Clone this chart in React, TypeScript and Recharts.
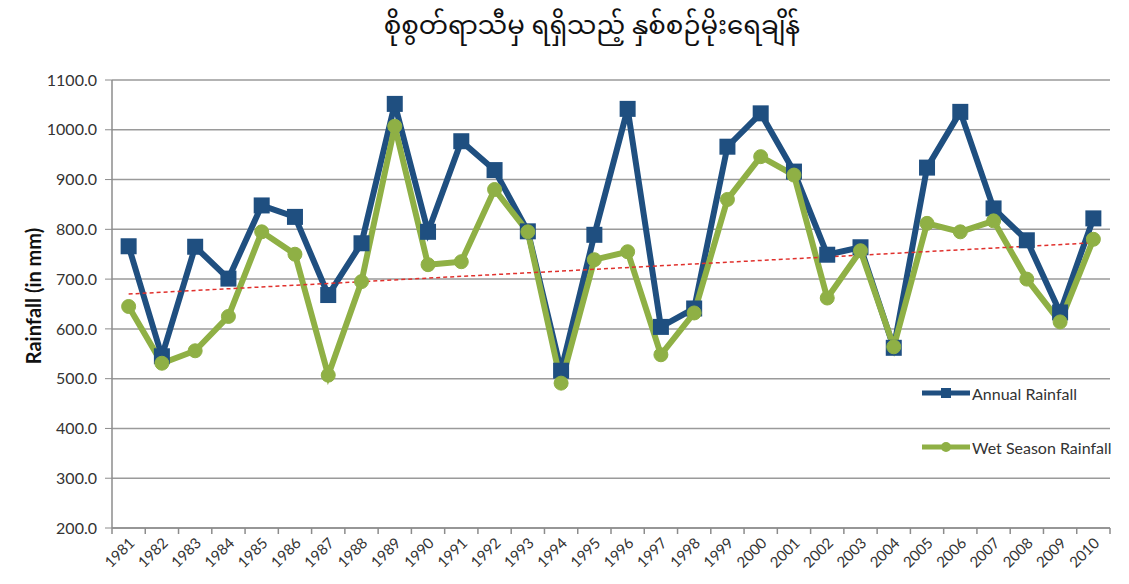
import React from 'react';
import { LineChart, Line, XAxis, YAxis, CartesianGrid, Legend, ReferenceLine } from 'recharts';

const years = ['1981','1982','1983','1984','1985','1986','1987','1988','1989','1990','1991','1992','1993','1994','1995','1996','1997','1998','1999','2000','2001','2002','2003','2004','2005','2006','2007','2008','2009','2010'];
const annual = [766, 545, 765, 701, 848, 825, 668, 772, 1052, 795, 977, 919, 796, 516, 789, 1042, 604, 641, 966, 1033, 916, 749, 764, 562, 924, 1036, 842, 778, 633, 822];
const wet = [645, 531, 556, 625, 795, 750, 507, 695, 1007, 729, 735, 880, 795, 491, 739, 755, 548, 632, 860, 946, 909, 662, 757, 564, 812, 795, 817, 700, 614, 780];
const trendStart = 670;
const trendEnd = 773;
const yTicks = [200, 300, 400, 500, 600, 700, 800, 900, 1000, 1100];

const title = 'စိုစွတ်ရာသီမှ ရရှိသည့် နှစ်စဉ်မိုးရေချိန်';
const yLabel = 'Rainfall (in mm)';

const data = years.map((y, i) => ({ year: y, annual: annual[i], wet: wet[i] }));

const BLUE = '#1f4f80';
const GREEN = '#8fb045';
const FONT = 'Lato, "Open Sans", sans-serif';
const CHART_W = 1129;
const MARGIN_R = 19;
const AXIS_W = 112;
const HALF_STEP = (CHART_W - MARGIN_R - AXIS_W) / years.length / 2;

const SquareDot = (props: any) => {
  const { cx, cy, index } = props;
  if (cx == null || cy == null) return <g key={index} />;
  return <rect key={index} x={cx - 8} y={cy - 8} width={16} height={16} fill={BLUE} />;
};

const XTick = (props: any) => {
  const { x, y, payload, index } = props;
  const ax = x + 7;
  const ay = y + 8;
  const axisY = y - 8;
  const isLast = index === years.length - 1;
  return (
    <g>
      <line x1={x - HALF_STEP} y1={axisY} x2={x - HALF_STEP} y2={axisY + 6} stroke="#8c8c8c" strokeWidth={1.5} />
      {isLast && <line x1={x + HALF_STEP} y1={axisY} x2={x + HALF_STEP} y2={axisY + 6} stroke="#8c8c8c" strokeWidth={1.5} />}
      <text x={ax} y={ay} transform={`rotate(-45 ${ax} ${ay})`} textAnchor="end" fontSize={15} fill="#333" fontFamily={FONT}>
        {payload.value}
      </text>
    </g>
  );
};

const LegendContent = () => (
  <div style={{ fontFamily: FONT, fontSize: 16, color: '#333' }}>
    <div style={{ display: 'flex', alignItems: 'center', height: 20 }}>
      <svg width={48} height={16}>
        <line x1={0} y1={8} x2={48} y2={8} stroke={BLUE} strokeWidth={5} strokeLinecap="round" />
        <rect x={19} y={3} width={10} height={10} fill={BLUE} />
      </svg>
      <span style={{ marginLeft: 2 }}>Annual Rainfall</span>
    </div>
    <div style={{ height: 34 }} />
    <div style={{ display: 'flex', alignItems: 'center', height: 20 }}>
      <svg width={48} height={16}>
        <line x1={0} y1={8} x2={48} y2={8} stroke={GREEN} strokeWidth={5} strokeLinecap="round" />
        <circle cx={24} cy={8} r={5} fill={GREEN} />
      </svg>
      <span style={{ marginLeft: 2 }}>Wet Season Rainfall</span>
    </div>
  </div>
);

const YLabel = (props: any) => {
  const vb = props.viewBox || {};
  const cx = 33;
  const cy = (vb.y || 80) + (vb.height || 448) / 2 - 8;
  return (
    <text x={cx} y={cy} transform={`rotate(-90 ${cx} ${cy})`} textAnchor="middle" dominantBaseline="central" fontSize={20} fontWeight="bold" fill="#111" fontFamily={FONT}>
      {yLabel}
    </text>
  );
};

export default function App() {
  return (
    <div style={{ position: 'absolute', left: 0, top: 0, width: CHART_W, height: 584, background: '#fff' }}>
      <div style={{ position: 'absolute', left: 0, top: 0, width: 1184, textAlign: 'center', fontSize: 26, color: '#111', fontFamily: '"Noto Sans Myanmar", "Padauk", "Myanmar Text", "Noto Sans", sans-serif' }}>
        {title}
      </div>
      <LineChart width={CHART_W} height={584} data={data} margin={{ top: 80, right: MARGIN_R, bottom: 0, left: 0 }}>
        <CartesianGrid vertical={false} stroke="#9a9a9a" strokeWidth={1.5} />
        <XAxis dataKey="year" type="category" height={56} padding={{ left: HALF_STEP, right: HALF_STEP }} tickLine={false} tickSize={0} tickMargin={8} axisLine={{ stroke: '#8c8c8c', strokeWidth: 1.5 }} tick={<XTick />} interval={0} />
        <YAxis domain={[200, 1100]} ticks={yTicks} width={AXIS_W} tickSize={7} tickMargin={8} tickFormatter={(v: number) => v.toFixed(1)} tick={{ fontSize: 16, fill: '#333', fontFamily: FONT }} axisLine={{ stroke: '#8c8c8c', strokeWidth: 1.5 }} tickLine={{ stroke: '#8c8c8c' }} label={<YLabel />} />
        <Line dataKey="annual" stroke={BLUE} strokeWidth={6} dot={<SquareDot />} isAnimationActive={false} />
        <Line dataKey="wet" stroke={GREEN} strokeWidth={6} dot={{ r: 7, fill: GREEN, stroke: GREEN, strokeWidth: 1 }} isAnimationActive={false} />
        <ReferenceLine segment={[{ x: '1981', y: trendStart }, { x: '2010', y: trendEnd }]} stroke="#e0302c" strokeWidth={1.5} strokeDasharray="4 3" ifOverflow="visible" />
        <Legend content={<LegendContent />} layout="vertical" align="center" verticalAlign="middle" wrapperStyle={{ position: 'absolute', left: 922, top: 383, width: 200 }} />
      </LineChart>
    </div>
  );
}
